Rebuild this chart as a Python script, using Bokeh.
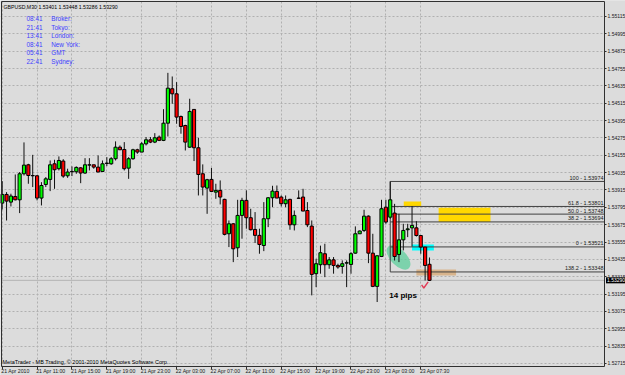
from bokeh.plotting import figure
from bokeh.models import (ColumnDataSource, FixedTicker, Label, Range1d,
                          PrintfTickFormatter)
from bokeh.embed import file_html
from bokeh.resources import INLINE

# ---------------- data ----------------
symbol_line = "GBPUSD,M30  1.53401 1.53448 1.53286 1.53290"

bars = list(range(99))
opens = [
    1.53824, 1.53884, 1.53831, 1.53870, 1.53847, 1.54027, 1.54089, 1.54015, 1.54013, 1.53859,
    1.53953, 1.53988, 1.54096, 1.54062, 1.54115, 1.54013, 1.54043, 1.54041, 1.54068, 1.54032,
    1.54089, 1.54089, 1.54073, 1.54043, 1.54101, 1.54096, 1.54131, 1.54211, 1.54195, 1.54066,
    1.54131, 1.54193, 1.54177, 1.54234, 1.54262, 1.54246, 1.54281, 1.54258, 1.54377, 1.54615,
    1.54580, 1.54423, 1.54361, 1.54211, 1.54472, 1.54207, 1.54027, 1.53928, 1.53988, 1.53900,
    1.53912, 1.53850, 1.53612, 1.53681, 1.53515, 1.53739, 1.53843, 1.53723, 1.53642, 1.53601,
    1.53531, 1.53716, 1.53861, 1.53905, 1.53866, 1.53820, 1.53850, 1.53674, 1.53859, 1.53866,
    1.53773, 1.53665, 1.53336, 1.53398, 1.53474, 1.53398, 1.53432, 1.53393, 1.53386, 1.53409,
    1.53400, 1.53478, 1.53612, 1.53635, 1.53734, 1.53478, 1.53248, 1.53455, 1.53796, 1.53727,
    1.53755, 1.53469, 1.53570, 1.53640, 1.53653, 1.53653, 1.53600, 1.53520, 1.53401]
highs = [
    1.53976, 1.53900, 1.53889, 1.54022, 1.54039, 1.54244, 1.54096, 1.54158, 1.54018, 1.53969,
    1.54004, 1.54119, 1.54124, 1.54147, 1.54128, 1.54062, 1.54078, 1.54078, 1.54073, 1.54135,
    1.54135, 1.54089, 1.54154, 1.54119, 1.54142, 1.54142, 1.54251, 1.54223, 1.54246, 1.54142,
    1.54200, 1.54200, 1.54246, 1.54281, 1.54281, 1.54308, 1.54292, 1.54474, 1.54725, 1.54700,
    1.54661, 1.54430, 1.54366, 1.54546, 1.54472, 1.54276, 1.54092, 1.53992, 1.54068, 1.53958,
    1.53981, 1.53854, 1.53704, 1.53686, 1.53847, 1.53861, 1.53912, 1.53785, 1.53762, 1.53647,
    1.53831, 1.53866, 1.53944, 1.53946, 1.53877, 1.53877, 1.53854, 1.53773, 1.53912, 1.53923,
    1.53831, 1.53704, 1.53439, 1.53530, 1.53543, 1.53451, 1.53451, 1.53405, 1.53428, 1.53428,
    1.53485, 1.53663, 1.53635, 1.53778, 1.53739, 1.53612, 1.53462, 1.53847, 1.53847, 1.53974,
    1.53819, 1.53750, 1.53681, 1.53681, 1.53803, 1.53699, 1.53600, 1.53520, 1.53448]
lows = [
    1.53780, 1.53704, 1.53801, 1.53843, 1.53755, 1.54015, 1.53958, 1.53935, 1.53843, 1.53808,
    1.53935, 1.53907, 1.53923, 1.54050, 1.53999, 1.53999, 1.54011, 1.54027, 1.53962, 1.54027,
    1.54050, 1.54062, 1.54039, 1.54039, 1.54080, 1.54089, 1.54119, 1.54193, 1.54050, 1.53992,
    1.54124, 1.54165, 1.54177, 1.54223, 1.54239, 1.54239, 1.54253, 1.54253, 1.54285, 1.54511,
    1.54373, 1.54304, 1.54188, 1.54207, 1.54115, 1.53877, 1.53877, 1.53750, 1.53900, 1.53854,
    1.53815, 1.53601, 1.53520, 1.53416, 1.53451, 1.53578, 1.53647, 1.53635, 1.53548, 1.53474,
    1.53492, 1.53658, 1.53796, 1.53859, 1.53801, 1.53796, 1.53640, 1.53635, 1.53854, 1.53769,
    1.53658, 1.53186, 1.53243, 1.53336, 1.53312, 1.53370, 1.53336, 1.53370, 1.53336, 1.53243,
    1.53336, 1.53474, 1.53612, 1.53624, 1.53409, 1.53243, 1.53140, 1.53451, 1.53681, 1.53716,
    1.53427, 1.53416, 1.53497, 1.53589, 1.53524, 1.53593, 1.53474, 1.53289, 1.53286]
closes = [
    1.53884, 1.53838, 1.53873, 1.53847, 1.54027, 1.54087, 1.54015, 1.54013, 1.53859, 1.53946,
    1.53992, 1.54089, 1.54055, 1.54119, 1.54011, 1.54039, 1.54041, 1.54071, 1.54032, 1.54089,
    1.54087, 1.54073, 1.54039, 1.54096, 1.54098, 1.54131, 1.54211, 1.54193, 1.54062, 1.54131,
    1.54193, 1.54177, 1.54234, 1.54262, 1.54246, 1.54276, 1.54258, 1.54377, 1.54619, 1.54580,
    1.54419, 1.54354, 1.54246, 1.54458, 1.54207, 1.54022, 1.53935, 1.53986, 1.53905, 1.53912,
    1.53866, 1.53608, 1.53681, 1.53508, 1.53739, 1.53843, 1.53723, 1.53640, 1.53601, 1.53538,
    1.53716, 1.53861, 1.53907, 1.53859, 1.53820, 1.53847, 1.53674, 1.53739, 1.53857, 1.53769,
    1.53674, 1.53331, 1.53405, 1.53481, 1.53398, 1.53432, 1.53393, 1.53382, 1.53405, 1.53412,
    1.53474, 1.53612, 1.53631, 1.53734, 1.53478, 1.53248, 1.53460, 1.53785, 1.53693, 1.53847,
    1.53455, 1.53570, 1.53635, 1.53646, 1.53670, 1.53600, 1.53520, 1.53393, 1.53290]

price_ticks = [1.52715, 1.52835, 1.52955, 1.53075, 1.53195, 1.53315, 1.53435, 1.53555,
               1.53675, 1.53795, 1.53915, 1.54035, 1.54155, 1.54275, 1.54395, 1.54515,
               1.54635, 1.54755, 1.54875, 1.54995, 1.55115]
time_tick_bars = [0, 8, 16, 24, 32, 40, 48, 56, 64, 72, 80, 88, 96]
time_tick_labels = ["21 Apr 2010", "21 Apr 11:00", "21 Apr 15:00", "21 Apr 19:00",
                    "21 Apr 23:00", "22 Apr 03:00", "22 Apr 07:00", "22 Apr 11:00",
                    "22 Apr 15:00", "22 Apr 19:00", "22 Apr 23:00", "23 Apr 03:00",
                    "23 Apr 07:30"]

fib_anchor_bar = 89
fib_levels = ["100", "61.8", "50.0", "38.2", "0", "138.2"]
fib_prices = [1.53974, 1.53801, 1.53748, 1.53694, 1.53521, 1.53348]

clock_times = ["08:41", "21:41", "13:41", "08:41", "05:41", "22:41"]
clock_names = ["Broker:", "Tokyo:", "London:", "New York:", "GMT", "Sydney:"]

# drawn boxes: (left bar, right bar, bottom price, top price, colour)
box_left = [92.1, 100.1, 94.0, 95.0]
box_right = [96.1, 112.0, 99.0, 104.1]
box_bottom = [1.53803, 1.53694, 1.53497, 1.53324]
box_top = [1.53835, 1.53792, 1.53538, 1.53365]
box_color = ["#ffd700", "#ffd700", "#00ffff", "#d8b48c"]

ellipse_bar, ellipse_price = 90.9, 1.53448
check_bars = [96.2, 96.7, 97.7]
check_prices = [1.53258, 1.53237, 1.53279]
pips_bar, pips_price, pips_text = 88.8, 1.53185, "14 pips"

footer = "MetaTrader - MB Trading, \u00a9 2001-2010 MetaQuotes Software Corp."

# ---------------- layout geometry ----------------
FONT = "Liberation Sans"
BG = "#dcdcdc"
W, H = 625, 375
PX_PER_BAR = 4.36
PX_PER_PRICE = 14458.0
# chart box (MetaTrader window) inside the canvas, in pixels
BOX_L, BOX_R, BOX_T, BOX_B = 1, 604, 1, 366
X0 = -0.16
X1 = X0 + (BOX_R - BOX_L) / PX_PER_BAR
Y0 = 1.52694
Y1 = Y0 + (BOX_B - BOX_T) / PX_PER_PRICE
XL = X0 - BOX_L / PX_PER_BAR
XR = X1 + (W - BOX_R) / PX_PER_BAR
YB = Y0 - (H - BOX_B) / PX_PER_PRICE
YT = Y1 + BOX_T / PX_PER_PRICE
TIME_LABEL_Y = Y0 - 4 / PX_PER_PRICE

p = figure(width=W, height=H, output_backend="svg", toolbar_location=None,
           x_range=Range1d(XL, XR), y_range=Range1d(YB, YT),
           y_axis_location="right", min_border=0,
           min_border_left=0, min_border_right=0, min_border_top=0, min_border_bottom=0)
p.background_fill_color = BG
p.border_fill_color = BG
p.outline_line_color = None

# price scale at the right edge of the chart box
yax = p.yaxis[0]
yax.fixed_location = X1
yax.ticker = FixedTicker(ticks=price_ticks)
yax.formatter = PrintfTickFormatter(format="%.5f")
yax.axis_line_color = None
yax.major_tick_out = 2
yax.major_tick_in = 0
yax.major_tick_line_color = "#303030"
yax.minor_tick_line_color = None
yax.major_label_standoff = 1
yax.major_label_text_font_size = "5px"
yax.major_label_text_font = FONT
yax.major_label_text_color = "#202020"

# time scale at the bottom edge of the chart box
xax = p.xaxis[0]
xax.fixed_location = Y0
xax.ticker = FixedTicker(ticks=time_tick_bars)
xax.major_label_overrides = {b: "" for b in time_tick_bars}
xax.major_label_text_font_size = "0px"
xax.major_label_standoff = 0
xax.axis_line_color = None
xax.major_tick_out = 3
xax.major_tick_in = 0
xax.major_tick_line_color = "#303030"
xax.minor_tick_line_color = None

p.grid.grid_line_color = "#b0b0b0"
p.grid.grid_line_dash = "2 2"

# margins of the MetaTrader window (hide grid outside the chart box)
p.quad(left=[X1, XL, XL, XL], right=[XR, XR, XR, X0],
       bottom=[YB, YB, Y1, YB], top=[YT, Y0, YT, YT],
       fill_color=BG, line_color=None)

# boxes and ellipse (background objects)
p.quad(left=box_left, right=box_right, bottom=box_bottom, top=box_top,
       fill_color=box_color, line_color=None)
p.ellipse(x=[ellipse_bar], y=[ellipse_price], width=30, height=16,
          width_units="screen", height_units="screen", angle=-0.8,
          fill_color="#5ccf9c", fill_alpha=0.75, line_color=None)

# bid line
p.segment(x0=[X0], x1=[X1], y0=[closes[-1]], y1=[closes[-1]],
          line_color="#b4b4b4", line_width=1)

# fibonacci
n_fib = len(fib_prices)
p.segment(x0=[fib_anchor_bar] * n_fib, x1=[X1] * n_fib, y0=fib_prices, y1=fib_prices,
          line_color="#404040", line_width=1)
p.segment(x0=[fib_anchor_bar], x1=[fib_anchor_bar], y0=[fib_prices[0]], y1=[fib_prices[-1]],
          line_color="#404040", line_width=1)
for lvl, pr in zip(fib_levels, fib_prices):
    p.add_layout(Label(x=X1, y=pr, text=f"{lvl} - {pr:.5f}", x_offset=-1,
                       text_align="right", text_baseline="bottom", y_offset=0.5,
                       text_font=FONT, text_font_size="5.5px", text_color="#202020"))

# candles
top = [max(o, c) for o, c in zip(opens, closes)]
bottom = [min(o, c) for o, c in zip(opens, closes)]
color = ["#00ff00" if c >= o else "#ff0000" for o, c in zip(opens, closes)]
src = ColumnDataSource(dict(x=bars, o=opens, h=highs, l=lows, c=closes,
                            top=top, bottom=bottom, color=color))
p.segment(x0="x", y0="l", x1="x", y1="h", source=src, line_color="#101010", line_width=1)
p.vbar(x="x", width=0.72, top="top", bottom="bottom", source=src,
       fill_color="color", line_color="#000000", line_width=1)

# chart box border
p.quad(left=[X0], right=[X1], bottom=[Y0], top=[Y1], fill_color=None,
       line_color="#303030", line_width=1)

# check mark and pips text
p.line(check_bars, check_prices, line_color="#e23a55", line_width=1.4)
p.add_layout(Label(x=pips_bar, y=pips_price, text=pips_text, text_align="left",
                   text_baseline="middle", text_font=FONT, text_font_size="8px",
                   text_font_style="bold", text_color="#000000"))

# current price tag on the price scale
p.add_layout(Label(x=X1, y=closes[-1], x_offset=1.5, text=f"{closes[-1]:.5f}",
                   text_align="left", text_baseline="middle", text_font=FONT,
                   text_font_size="5px", text_color="#ffffff",
                   background_fill_color="#000000", padding=1))

# header texts (screen units measured from the bottom-left of the canvas)
p.add_layout(Label(x=3, y=H - 6, x_units="screen", y_units="screen", text=symbol_line,
                   text_baseline="middle", text_font=FONT, text_font_size="5.2px",
                   text_color="#000000"))
for k, (t, nm) in enumerate(zip(clock_times, clock_names)):
    yy = H - 18 - 8.6 * k
    p.add_layout(Label(x=26, y=yy, x_units="screen", y_units="screen", text=t,
                       text_baseline="middle", text_font=FONT, text_font_size="6.4px",
                       text_color="#4040ff"))
    p.add_layout(Label(x=50.7, y=yy, x_units="screen", y_units="screen", text=nm,
                       text_baseline="middle", text_font=FONT, text_font_size="6.4px",
                       text_color="#4040ff"))

p.add_layout(Label(x=2, y=H - 361, x_units="screen", y_units="screen", text=footer,
                   text_baseline="middle", text_font=FONT, text_font_size="5.5px",
                   text_color="#000000"))

# time labels under the chart box
for b, t in zip(time_tick_bars, time_tick_labels):
    p.add_layout(Label(x=b - 0.2, y=TIME_LABEL_Y, text=t, text_align="left",
                       text_baseline="middle", text_font=FONT, text_font_size="5.2px",
                       text_color="#202020"))

open("out.html", "w").write(file_html(p, INLINE))
